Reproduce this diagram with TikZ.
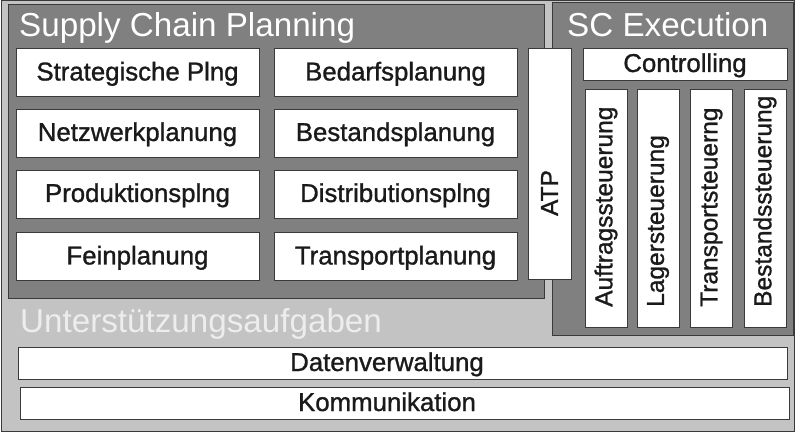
\documentclass[tikz,border=0pt]{standalone}
\usepackage{fontspec}
\setmainfont{Liberation Sans}
\newfontfamily\medfont[FakeBold=1.1]{Liberation Sans}
\definecolor{darkbg}{HTML}{808080}
\definecolor{lightbg}{HTML}{C3C3C3}
\definecolor{edge}{HTML}{3A3A3A}
\definecolor{ink}{HTML}{1A1A1A}
\begin{document}
\begin{tikzpicture}[x=1pt,y=-1pt,
  frame/.style={draw=edge,line width=1pt},
  box/.style={draw=edge,fill=white,line width=0.8pt,inner sep=0pt,text=ink,
    text height=16pt,text depth=0pt,font=\medfont\fontsize{25.8}{25.8}\selectfont},
  hbox/.style={box,minimum width=243pt,minimum height=48pt},
  vbox/.style={box,minimum width=42pt,minimum height=238pt},
  vtext/.style={rotate=90,anchor=west,inner sep=0pt,text=ink,font=\medfont\fontsize{24.5}{24.5}\selectfont},
  title/.style={anchor=base west,inner sep=0pt,text=white,font=\fontsize{33.2}{33.2}\selectfont},
  wbox/.style={box,minimum height=32pt},
  ltext/.style={inner sep=0pt,text=ink,text height=16pt,text depth=0pt,font=\medfont\fontsize{25.8}{25.8}\selectfont}]
\useasboundingbox (0,0) rectangle (796,433);
% frames
\draw[frame,fill=lightbg] (1,1) rectangle (794,431);
\draw[frame,fill=darkbg] (8,5) rectangle (544,298);
\draw[frame,fill=darkbg] (552,3) rectangle (793,335);
% titles
\node[title] (tscp) at (19,37) {Supply Chain Planning};
\node[title] (tsce) at (567,37) {SC Execution};
\node[title,text=white!93!black] (tua) at (20,332) {Unterstützungsaufgaben};
% planning boxes
\node[hbox] (s1) at (137.5,72.5) {Strategische Plng};
\node[hbox] (s2) at (395.5,72.5) {Bedarfsplanung};
\node[hbox] (s3) at (137.5,133) {Netzwerkplanung};
\node[hbox] (s4) at (395.5,133) {Bestandsplanung};
\node[hbox] (s5) at (137.5,194) {Produktionsplng};
\node[hbox] (s6) at (395.5,194) {Distributionsplng};
\node[hbox] (s7) at (137.5,256.5) {Feinplanung};
\node[hbox] (s8) at (395.5,256.5) {Transportplanung};
% ATP
\node[box,minimum width=43pt,minimum height=231pt] (atp) at (549.5,163.5) {};
\node[vtext,anchor=center] (atpt) at (549.5,193) {ATP};
% execution
\node[wbox,minimum width=204pt] (ctrl) at (685,64) {Controlling};
\node[vbox] (e1) at (606,208) {};
\node[vbox] (e2) at (658,208) {};
\node[vbox] (e3) at (711.5,208) {};
\node[vbox] (e4) at (765,208) {};
\node[vtext] (e1t) at (606,307) {Auftragssteuerung};
\node[vtext] (e2t) at (658,307) {Lagersteuerung};
\node[vtext] (e3t) at (711.5,307) {Transportsteuerng};
\node[vtext] (e4t) at (765,307) {Bestandssteuerung};
% support
\node[wbox,minimum width=769pt] (dv) at (402.5,363) {};
\node[ltext] (dvt) at (387,363) {Datenverwaltung};
\node[wbox,minimum width=769pt] (km) at (404.5,403) {};
\node[ltext] (kmt) at (387,403) {Kommunikation};
\end{tikzpicture}
\end{document}
